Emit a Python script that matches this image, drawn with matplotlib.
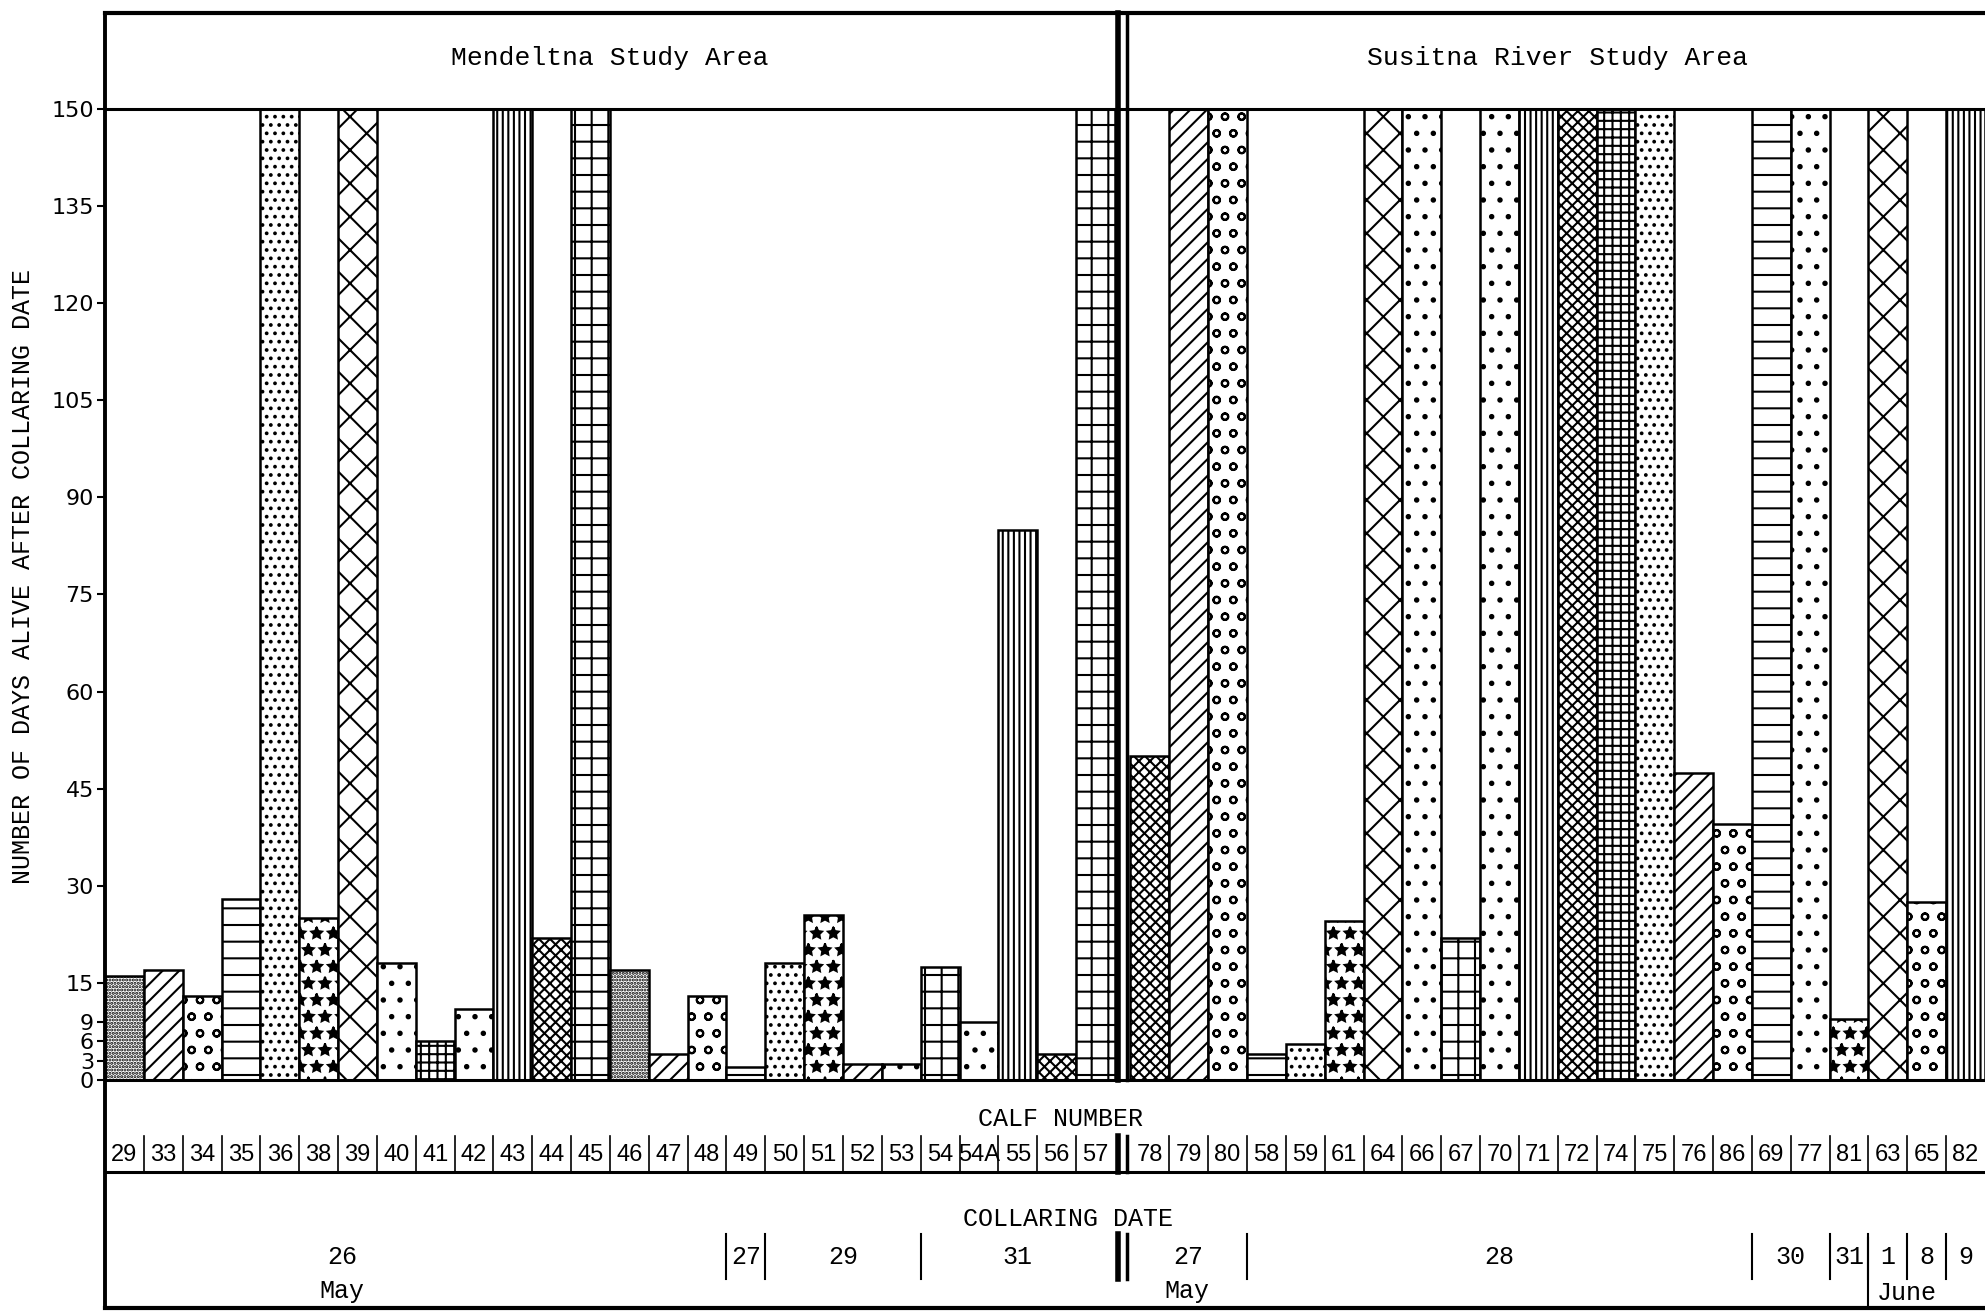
import matplotlib.pyplot as plt
from matplotlib.transforms import blended_transform_factory

# calves and days alive after collaring (150 = still alive at end)
mend_calves = ['29', '33', '34', '35', '36', '38', '39', '40', '41', '42', '43', '44', '45',
               '46', '47', '48', '49', '50', '51', '52', '53', '54', '54A', '55', '56', '57']
mend_days = [16, 17, 13, 28, 150, 25, 150, 18, 6, 11, 150, 22, 150,
             17, 4, 13, 2, 18, 25.5, 2.5, 2.5, 17.5, 9, 85, 4, 150]

sus_calves = ['78', '79', '80', '58', '59', '61', '64', '66', '67', '70', '71',
              '72', '74', '75', '76', '86', '69', '77', '81', '63', '65', '82']
sus_days = [50, 150, 150, 4, 5.5, 24.5, 150, 150, 22, 150, 150,
            150, 150, 150, 47.5, 39.5, 150, 150, 9.5, 150, 27.5, 150]

# collaring dates and how many calves in each
mend_dates = ['26', '27', '29', '31']
mend_date_counts = [16, 1, 4, 5]
sus_dates = ['27', '28', '30', '31', '1', '8', '9']
sus_date_counts = [3, 13, 2, 1, 1, 1, 1]

yticks = [0, 3, 6, 9, 15, 30, 45, 60, 75, 90, 105, 120, 135, 150]

# fill patterns, one per bar
hatch_of = {
    'stipple': '.....', 'diag': '//', 'tri': 'o', 'horiz': '-', 'dots': '..',
    'hearts': '*', 'dashes': 'x', 'small': '.', 'grid_s': '++', 'heavy': '.',
    'wavy': '|||', 'squig': 'xxx', 'grid_l': '+',
}
mend_pat = ['stipple', 'diag', 'tri', 'horiz', 'dots', 'hearts', 'dashes', 'small', 'grid_s',
            'heavy', 'wavy', 'squig', 'grid_l', 'stipple', 'diag', 'tri', 'horiz', 'dots',
            'hearts', 'diag', 'small', 'grid_l', 'heavy', 'wavy', 'squig', 'grid_l']
sus_pat = ['squig', 'diag', 'tri', 'horiz', 'dots', 'hearts', 'dashes', 'small', 'grid_l',
           'heavy', 'wavy', 'squig', 'grid_s', 'dots', 'diag', 'tri', 'horiz', 'small',
           'hearts', 'dashes', 'tri', 'wavy']

plt.rcParams['hatch.linewidth'] = 1.5
mono = 'Liberation Mono'

fig = plt.figure(figsize=(19.85, 13.11), dpi=100)
ax = fig.add_axes([0.0529, 0.1762, 0.9471, 0.7407])

gap = 0.4
n_m = len(mend_calves)
sus_start = n_m + gap
mend_x = [i + 0.5 for i in range(n_m)]
sus_x = [sus_start + j + 0.5 for j in range(len(sus_calves))]
right = sus_start + len(sus_calves)

for x, h, p in zip(mend_x, mend_days, mend_pat):
    ax.bar(x, h, width=1.0, facecolor='white', edgecolor='black', linewidth=1.8,
           hatch=hatch_of[p])
for x, h, p in zip(sus_x, sus_days, sus_pat):
    ax.bar(x, h, width=1.0, facecolor='white', edgecolor='black', linewidth=1.8,
           hatch=hatch_of[p])

ax.set_xlim(0, right)
ax.set_ylim(0, 150)
ax.set_yticks(yticks)
ax.set_yticklabels([str(t) for t in yticks], fontsize=16, family='DejaVu Sans')
ax.tick_params(axis='y', direction='out', length=6, width=1.5, pad=2)
ax.set_xticks([])
for s in ax.spines.values():
    s.set_visible(False)

tr = blended_transform_factory(ax.transData, ax.transAxes)
y_top, y_bot = 1.0989, -0.2348
y_calf = -0.0948

def hline(y, lw=2.5):
    ax.plot([0, right], [y, y], color='black', lw=lw, transform=tr, clip_on=False)

def vline(x, y0, y1, lw=1.5):
    ax.plot([x, x], [y0, y1], color='black', lw=lw, transform=tr, clip_on=False)

hline(y_top, 3)
hline(1.0, 2.2)
hline(0.0, 2.2)
hline(y_calf, 2.2)
hline(y_bot, 3)
vline(0, y_bot, y_top, 2.8)

# double divider between the two study areas
for y0, y1 in [(0.0, y_top), (-0.058, y_calf)]:
    vline(n_m + 0.08, y0, y1, 4)
    vline(n_m + 0.32, y0, y1, 2.5)

ax.text(n_m / 2, 1.0525, 'Mendeltna Study Area', transform=tr, ha='center', va='center',
        fontsize=19, family=mono)
ax.text(sus_start + len(sus_calves) / 2, 1.0525, 'Susitna River Study Area', transform=tr,
        ha='center', va='center', fontsize=19, family=mono)

# calf number row
ax.text(24.6, -0.040, 'CALF NUMBER', transform=tr, ha='center', va='center',
        fontsize=18, family=mono)
for x, c in zip(mend_x + sus_x, mend_calves + sus_calves):
    ax.text(x, -0.077, c, transform=tr, ha='center', va='center', fontsize=17,
            family='Liberation Sans')
for k in range(1, n_m):
    vline(k, -0.058, y_calf, 1.2)
for k in range(1, len(sus_calves)):
    vline(sus_start + k, -0.058, y_calf, 1.2)

# collaring date row
ax.text(24.8, -0.143, 'COLLARING DATE', transform=tr, ha='center', va='center',
        fontsize=18, family=mono)

def date_row(start, labels, counts, first_shift=0.0):
    pos = start
    for i, (lab, cnt) in enumerate(zip(labels, counts)):
        cx = pos + cnt / 2
        if i == 0:
            cx += first_shift
        ax.text(cx, -0.182, lab, transform=tr, ha='center', va='center',
                fontsize=18, family=mono)
        if i > 0:
            vline(pos, -0.159, -0.205, 1.5)
        pos += cnt
    return pos

date_row(0, mend_dates, mend_date_counts, first_shift=-1.9)
date_row(sus_start, sus_dates, sus_date_counts)
vline(n_m + 0.08, -0.159, -0.205, 4)
vline(n_m + 0.32, -0.159, -0.205, 2.5)

ax.text(6.1, -0.217, 'May', transform=tr, ha='center', va='center', fontsize=18, family=mono)
ax.text(sus_start + 1.45, -0.217, 'May', transform=tr, ha='center', va='center',
        fontsize=18, family=mono)
june_left = sus_start + sum(sus_date_counts[:4])
vline(june_left, -0.163, y_bot, 1.5)
ax.text(june_left + 1.0, -0.219, 'June', transform=tr, ha='center', va='center',
        fontsize=18, family=mono)

fig.text(0.0116, 0.5606, 'NUMBER OF DAYS ALIVE AFTER COLLARING DATE', rotation=90,
         ha='center', va='center', fontsize=18, family=mono)

fig.savefig('out.png', dpi=100)
